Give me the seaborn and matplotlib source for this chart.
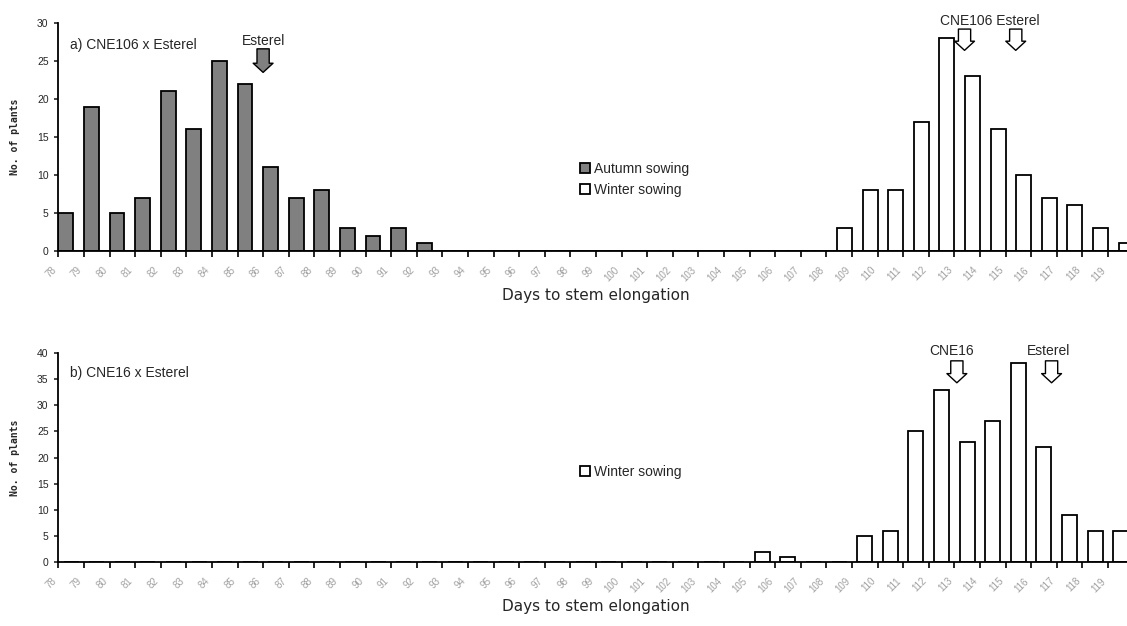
import numpy as np
import pandas as pd
import matplotlib
matplotlib.use("Agg")
import matplotlib.pyplot as plt
import seaborn as sns

# ---------------- data ----------------
days = list(range(78, 120))
day_labels = [str(d) for d in days]

# a) CNE106 x Esterel
autumn_a = [5, 19, 5, 7, 21, 16, 25, 22, 11, 7, 8, 3, 2, 3, 1] + [0] * 27
winter_a = [0] * 30 + [3, 8, 8, 17, 28, 23, 16, 10, 7, 6, 3, 1]

# b) CNE16 x Esterel
winter_b = [0] * 27 + [2, 1, 0, 0, 5, 6, 25, 33, 23, 27, 38, 22, 9, 6, 6]

series_names = ["Autumn sowing", "Winter sowing"]
title_a = "a) CNE106 x Esterel"
title_b = "b) CNE16 x Esterel"
xlabel = "Days to stem elongation"
ylabel = "No. of plants"

# parent annotations (x-position in category units, arrow tip, arrow top, fill)
arrows_a = [(7.5, 23.5, 26.6, "#808080"),
            (34.9, 26.4, 29.2, "white"),
            (36.9, 26.4, 29.2, "white")]
arrows_b = [(34.6, 34.3, 38.5, "white"),
            (38.3, 34.3, 38.5, "white")]

df_a = pd.DataFrame({
    "day": day_labels * 2,
    "count": autumn_a + winter_a,
    "sowing": [series_names[0]] * len(days) + [series_names[1]] * len(days),
})
df_b = pd.DataFrame({
    "day": day_labels,
    "count": winter_b,
    "sowing": [series_names[1]] * len(days),
})

# ---------------- style ----------------
sns.set_style("ticks")
plt.rcParams["font.family"] = ["Liberation Sans", "DejaVu Sans"]

W, H = 1127, 626
fig = plt.figure(figsize=(W / 100, H / 100), dpi=100)

left = 58.3 / W
width = (42 * 25.6) / W
ax_a = fig.add_axes([left, 1 - 251 / H, width, (251 - 23) / H])
ax_b = fig.add_axes([left, 1 - 562 / H, width, (562 - 353) / H])

pal = {series_names[0]: "#808080", series_names[1]: "white"}
bar_w = 0.58

sns.barplot(data=df_a, x="day", y="count", hue="sowing", order=day_labels,
            hue_order=series_names, palette=pal, width=1.0, dodge=True,
            edgecolor="black", linewidth=1.3, saturation=1, ax=ax_a)
# widen dodged bars, keeping their outer edges
for ci, cont in enumerate(ax_a.containers):
    for p in cont.patches:
        x0, w0 = p.get_x(), p.get_width()
        if ci == 0:
            p.set_width(bar_w)
        else:
            p.set_x(x0 + w0 - bar_w)
            p.set_width(bar_w)

sns.barplot(data=df_b, x="day", y="count", hue="sowing", order=day_labels,
            hue_order=[series_names[1]], palette=pal, width=0.59,
            edgecolor="black", linewidth=1.3, saturation=1, ax=ax_b)

def style_axis(ax, ymax, title, arrows):
    ax.set_xlim(-0.5, 41.5)
    ax.set_ylim(0, ymax)
    ax.set_yticks(np.arange(0, ymax + 1, 5))
    ax.set_xticks(np.arange(len(days)) - 0.5)
    ax.set_xticklabels(day_labels, rotation=45, ha="right", va="top",
                       color="#a0a0a0", fontsize=7)
    ax.tick_params(axis="x", length=4, width=1.2, pad=6, color="black")
    ax.tick_params(axis="y", length=3, width=1.2, labelsize=7.5, pad=4)
    for s in ("top", "right"):
        ax.spines[s].set_visible(False)
    for s in ("left", "bottom"):
        ax.spines[s].set_linewidth(1.3)
        ax.spines[s].set_color("black")
    ax.set_xlabel(xlabel, fontsize=11, family="DejaVu Sans", labelpad=3)
    ax.set_ylabel(ylabel, fontsize=7, fontweight="bold",
                  family="DejaVu Sans Mono", labelpad=12)
    ax.text(-0.05, ymax * 0.905, title, fontsize=10, ha="left", va="center")
    for x, tip, top, fc in arrows:
        ax.annotate("", xy=(x, tip), xytext=(x, top),
                    arrowprops=dict(arrowstyle="simple,head_length=0.3,head_width=0.65,tail_width=0.4",
                                    fc=fc, ec="black", lw=1.0,
                                    shrinkA=0, shrinkB=0, mutation_scale=22),
                    annotation_clip=False)
    ax.set_facecolor("white")

style_axis(ax_a, 30, title_a, arrows_a)
style_axis(ax_b, 40, title_b, arrows_b)

ax_a.text(7.5, 27.6, "Esterel", fontsize=10, ha="center", va="center")
ax_a.text(35.9, 30.2, "CNE106 Esterel", fontsize=10, ha="center", va="center", clip_on=False)
ax_b.text(34.4, 40.3, "CNE16", fontsize=10, ha="center", va="center", clip_on=False)
ax_b.text(38.2, 40.3, "Esterel", fontsize=10, ha="center", va="center", clip_on=False)

for ax, yanc in ((ax_a, 0.315), (ax_b, 0.43)):
    sns.move_legend(ax, loc="center left", bbox_to_anchor=(0.474, yanc),
                    frameon=False, title=None, fontsize=10,
                    handlelength=0.7, handleheight=0.7, handletextpad=0.3,
                    labelspacing=0.5)

fig.savefig("out.png", dpi=100, facecolor="white")
